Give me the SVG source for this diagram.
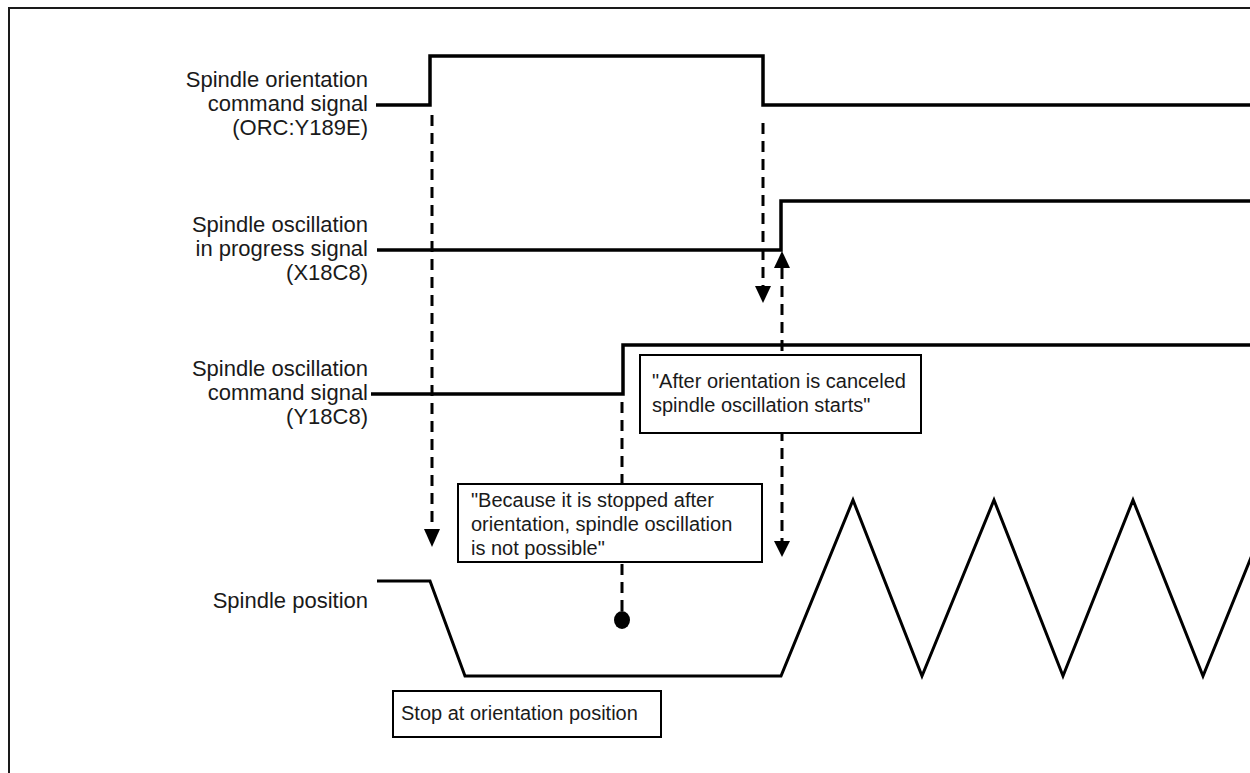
<svg xmlns="http://www.w3.org/2000/svg" width="1250" height="773" viewBox="0 0 1250 773">
<defs>
<style>
.lbl{font-family:"Liberation Sans",Arial,sans-serif;font-size:22px;fill:#1a1a1a;text-anchor:end}
.txt{font-family:"Liberation Sans",Arial,sans-serif;font-size:20px;fill:#1a1a1a}
.sig{fill:none;stroke:#000;stroke-width:3.5;stroke-linejoin:miter}
.pos{fill:none;stroke:#000;stroke-width:3;stroke-linejoin:miter}
.dash{fill:none;stroke:#000;stroke-width:3;stroke-dasharray:11 7}
.box{fill:#fff;stroke:#000;stroke-width:2}
.ah{fill:#000}
</style>
</defs>
<rect x="0" y="0" width="1250" height="773" fill="#fff"/>
<path d="M9,773 V8 H1250" fill="none" stroke="#1a1a1a" stroke-width="2"/>

<g id="connectors">
<line class="dash" x1="432" y1="115" x2="432" y2="530"/>
<polygon class="ah" points="424,529 440,529 432,547"/>
<line class="dash" x1="763" y1="123" x2="763" y2="286"/>
<polygon class="ah" points="755,286 771,286 763,303"/>
<line class="dash" x1="782" y1="268" x2="782" y2="541"/>
<polygon class="ah" points="774,268 790,268 782,251"/>
<polygon class="ah" points="774,541 790,541 782,557"/>
<line class="dash" x1="622" y1="402" x2="622" y2="612"/>
<ellipse cx="622" cy="620" rx="8" ry="9" fill="#000"/>
</g>

<g id="sig-orc">
<text class="lbl" x="368" y="87">Spindle orientation</text>
<text class="lbl" x="368" y="111">command signal</text>
<text class="lbl" x="368" y="135">(ORC:Y189E)</text>
<polyline class="sig" points="376,105 430,105 430,56 763,56 763,105 1252,105"/>
</g>

<g id="sig-osc-progress">
<text class="lbl" x="368" y="232">Spindle oscillation</text>
<text class="lbl" x="368" y="256">in progress signal</text>
<text class="lbl" x="368" y="280">(X18C8)</text>
<polyline class="sig" points="377,250 781,250 781,201 1252,201"/>
</g>

<g id="sig-osc-command">
<text class="lbl" x="368" y="376">Spindle oscillation</text>
<text class="lbl" x="368" y="400">command signal</text>
<text class="lbl" x="368" y="424">(Y18C8)</text>
<polyline class="sig" points="371,394 623,394 623,345 1252,345"/>
</g>

<g id="sig-position">
<text class="lbl" x="368" y="608">Spindle position</text>
<polyline class="pos" points="377,581 430,581 465,676 781,676 853,500 922,676 994,500 1063,676 1133,500 1203,676 1252,555"/>
</g>

<g id="note-after">
<rect class="box" x="640" y="355" width="281" height="78"/>
<text class="txt" x="652" y="388">"After orientation is canceled</text>
<text class="txt" x="652" y="412">spindle oscillation starts"</text>
</g>

<g id="note-because">
<rect class="box" x="458" y="484" width="304" height="78"/>
<text class="txt" x="471" y="507">"Because it is stopped after</text>
<text class="txt" x="471" y="531">orientation, spindle oscillation</text>
<text class="txt" x="471" y="555">is not possible"</text>
</g>

<g id="note-stop">
<rect class="box" x="393" y="691" width="268" height="46"/>
<text class="txt" x="401" y="720">Stop at orientation position</text>
</g>
</svg>
